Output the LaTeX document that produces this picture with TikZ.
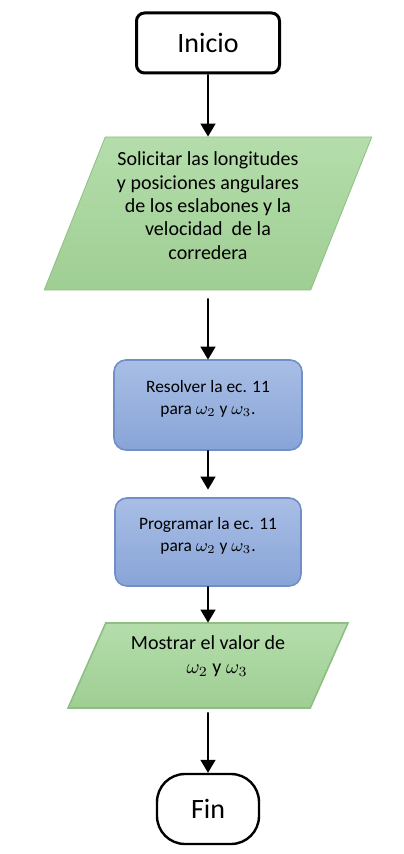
\documentclass[tikz,border=0pt]{standalone}
\usepackage{fontspec}
\setmainfont{Carlito}
\usetikzlibrary{shapes.geometric,arrows.meta}
\definecolor{verdeTop}{HTML}{B4DDAB}
\definecolor{verdeBot}{HTML}{9FCE93}
\definecolor{verdeBorde}{HTML}{8DBF82}
\definecolor{azulTop}{HTML}{A8BEE5}
\definecolor{azulBot}{HTML}{88A4D7}
\definecolor{azulBorde}{HTML}{6F8FC6}

\begin{document}
\begin{tikzpicture}[
  x=0.5pt, y=-0.5pt,
  level 1/.style={level distance=85.25pt},
  level 2/.style={level distance=95.75pt},
  level 3/.style={level distance=68.5pt},
  level 4/.style={level distance=61.75pt},
  level 5/.style={level distance=71.75pt},
  edge from parent/.style={draw, line width=0.8pt, -{Triangle[width=7.5pt,length=6.5pt]}},
  terminal/.style={draw, rectangle, rounded corners=4pt, line width=1.5pt, fill=white,
    minimum width=71.5pt, minimum height=30pt, font=\fontsize{14}{16}\selectfont},
  datos/.style={trapezium, trapezium left angle=67, trapezium right angle=113,
    trapezium stretches=true, draw=verdeBorde, top color=verdeTop, bottom color=verdeBot,
    align=center, text depth=8pt, font=\fontsize{10}{11.7}\selectfont},
  proceso/.style={draw=azulBorde, rectangle, rounded corners=6pt, top color=azulTop,
    bottom color=azulBot, minimum width=94pt, minimum height=45pt, align=center,
    text depth=8pt, font=\fontsize{8.7}{11}\selectfont}
]
\useasboundingbox[fill=white] (0,0) rectangle (403,854);

% Root node
\node[terminal] (inicio) at (208,43) {Inicio}
  % Level 1
  child {node[datos, minimum width=164pt, minimum height=76.5pt] (solicitar)
      {Solicitar las longitudes\\ y posiciones angulares\\ de los eslabones y la\\
       velocidad\ \ de la\\ corredera}
    % Level 2
    child {node[proceso] (resolver) {Resolver la ec. 11\\ para $\omega_2$ y $\omega_3$.}
      % Level 3
      child {node[proceso, minimum width=93pt, minimum height=44pt] (programar)
          {Programar la ec. 11\\ para $\omega_2$ y $\omega_3$.}
        % Level 4
        child {node[datos, minimum width=140pt, minimum height=42.5pt, text depth=11pt] (mostrar)
            {Mostrar el valor de\\ \hspace*{9pt}$\omega_2$ y $\omega_3$}
          % Level 5
          child {node[terminal, minimum width=51pt, minimum height=35pt,
              rounded corners=14pt, line width=1.2pt] (fin) {Fin}
            edge from parent[shorten <=2pt]}
        }
        edge from parent[shorten >=4pt]
      }
      edge from parent[shorten <=4pt]
    }
  };
\end{tikzpicture}
\end{document}
